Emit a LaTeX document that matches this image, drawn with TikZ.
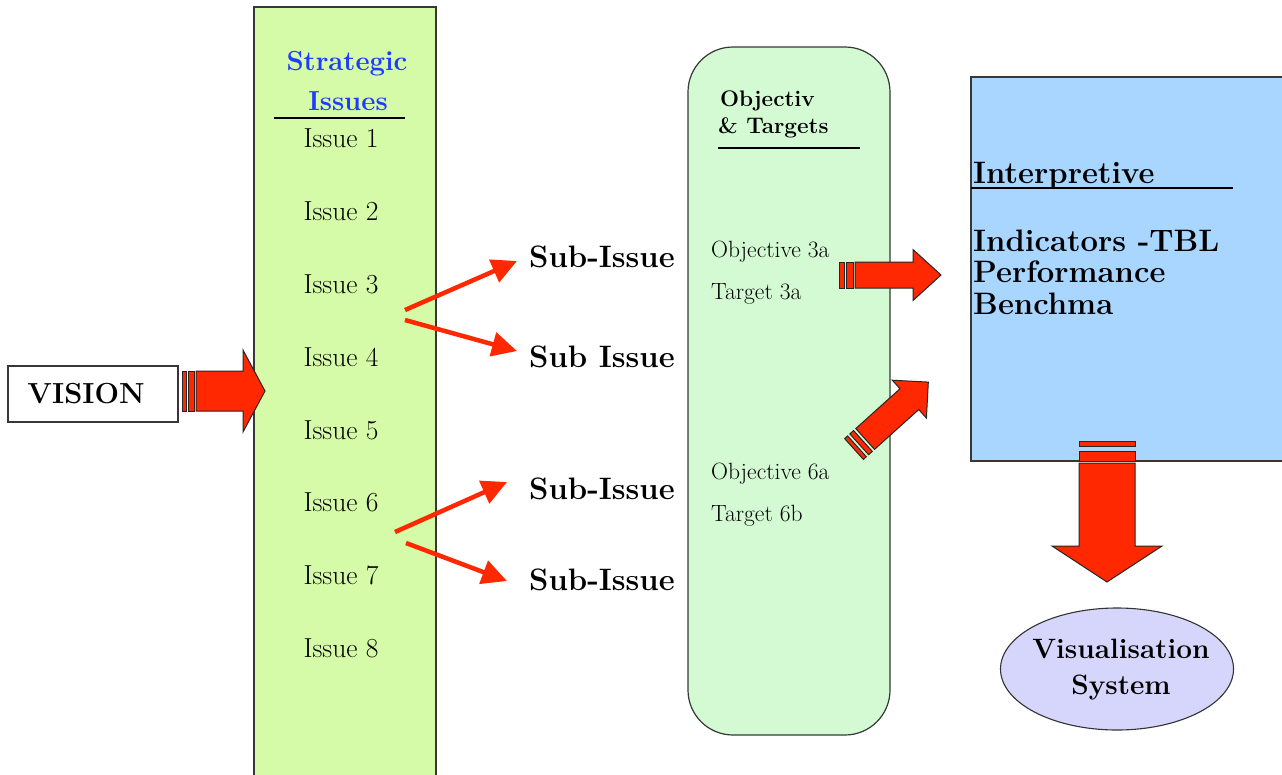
\documentclass[tikz,border=0pt]{standalone}
\usepackage{fontspec}
\usetikzlibrary{arrows.meta,shapes.geometric}
\definecolor{colgreen}{RGB}{213,250,168}
\definecolor{objgreen}{RGB}{212,250,212}
\definecolor{boxblue}{RGB}{168,214,255}
\definecolor{lav}{RGB}{214,214,252}
\definecolor{arrred}{RGB}{255,40,0}
\definecolor{headblue}{RGB}{30,60,255}
\definecolor{edge}{RGB}{55,55,55}
\newcommand\fsz[2]{\fontsize{#1}{#2}\selectfont}
\tikzset{
  panel/.style={fill=#1, draw=edge, line width=1.2pt},
  arrbox/.style={fill=arrred, draw=black!85, line width=1pt, line join=miter},
  thinarr/.style={draw=arrred, line width=4.5pt, -{Triangle[length=25pt,width=24pt]}},
  issue/.style={font=\fsz{27.5}{30}, inner sep=0pt},
  subiss/.style={font=\fsz{31}{34}\bfseries, inner sep=0pt, anchor=west},
  objtxt/.style={font=\fsz{23.5}{25}, inner sep=0pt, anchor=west},
  bigbold/.style={font=\fsz{31}{34}\bfseries, inner sep=0pt, anchor=west},
  pics/sarrow/.style n args={8}{code={
    \draw[arrbox] (0,-#2) rectangle (#5,#2);
    \draw[arrbox] (#6,-#2) rectangle (#7,#2);
    \draw[arrbox] (#8,-#2) -- (#1-#4,-#2) -- (#1-#4,-#3) -- (#1,0) -- (#1-#4,#3) -- (#1-#4,#2) -- (#8,#2) -- cycle;
  }}
}
\begin{document}
\begin{tikzpicture}[x=1pt,y=-1pt]
\useasboundingbox (0,0) rectangle (1282,774);
% Strategic issues column
\path[fill=colgreen] (254,776) -- (254,7) -- (436,7) -- (436,776) -- cycle;
\draw[draw=edge, line width=1.2pt] (254,776) -- (254,7) -- (436,7) -- (436,776);
\node[font=\fsz{27.5}{30}\bfseries, text=headblue, inner sep=0pt] (sh1) at (347,64) {Strategic};
\node[font=\fsz{27.5}{30}\bfseries, text=headblue, inner sep=0pt] (sh2) at (348,101) {Issues};
\draw[line width=1.1pt] (274,118) -- (405,118);
\node[issue] (i1) at (341,138) {Issue 1};
\node[issue] (i2) at (341,211) {Issue 2};
\node[issue] (i3) at (341,284) {Issue 3};
\node[issue] (i4) at (341,357) {Issue 4};
\node[issue] (i5) at (341,430) {Issue 5};
\node[issue] (i6) at (341,502) {Issue 6};
\node[issue] (i7) at (341,575) {Issue 7};
\node[issue] (i8) at (341,648) {Issue 8};
% Vision
\node[draw=edge, line width=1.2pt, fill=white, minimum width=170pt, minimum height=56pt, inner sep=0pt] (vis) at (93,394) {};
\node[font=\fsz{29}{32}\bfseries, inner sep=0pt] (vistxt) at (86,394) {VISION};
\pic at (182,391) {sarrow={83}{20}{41}{22}{4}{6}{12}{14}};
% Objectives box
\node[panel=objgreen, rounded corners=45pt, minimum width=202pt, minimum height=688pt, inner sep=0pt] (obj) at (789,391) {};
\node[font=\fsz{22.5}{25}\bfseries, inner sep=0pt, anchor=west] (oh1) at (720,101) {Objectiv};
\node[font=\fsz{22.5}{25}\bfseries, inner sep=0pt, anchor=west] (oh2) at (718,128) {\& Targets};
\draw[line width=1.1pt] (718,148) -- (860,148);
\node[objtxt] (o3a) at (711,252) {Objective 3a};
\node[objtxt] (t3a) at (711,294) {Target 3a};
\node[objtxt] (o6a) at (711,474) {Objective 6a};
\node[objtxt] (t6b) at (711,516) {Target 6b};
% Sub issues
\node[subiss] (sub1) at (529,257) {Sub-Issue};
\node[subiss] (sub2) at (529,357) {Sub Issue};
\node[subiss] (sub3) at (529,489) {Sub-Issue};
\node[subiss] (sub4) at (529,580) {Sub-Issue};
\coordinate (a1s) at (405,310);
\coordinate (a1e) at (517,261);
\coordinate (a2s) at (405,320);
\coordinate (a2e) at (517,351);
\coordinate (a3s) at (395,532);
\coordinate (a3e) at (507,482);
\coordinate (a4s) at (406,543);
\coordinate (a4e) at (507,581);
\draw[thinarr] (a1s) -- (a1e);
\draw[thinarr] (a2s) -- (a2e);
\draw[thinarr] (a3s) -- (a3e);
\draw[thinarr] (a4s) -- (a4e);
% Interpretive box
\path[fill=boxblue] (1284,77) -- (971,77) -- (971,461) -- (1284,461) -- cycle;
\draw[draw=edge, line width=1.2pt] (1284,77) -- (971,77) -- (971,461) -- (1284,461);
\node[bigbold] (int) at (973,176) {Interpretive};
\draw[line width=1.1pt] (971,188) -- (1233,188);
\node[bigbold] (ind1) at (973,241) {Indicators -TBL};
\node[bigbold] (ind2) at (973,272) {Performance};
\node[bigbold] (ind3) at (973,304) {Benchma};
% objective arrows
\pic at (839,275) {sarrow={102}{13}{25.5}{28}{5}{7}{14}{16}};
\pic[rotate=42] at (854,449) {sarrow={100}{14}{25.5}{25.5}{4}{7}{12}{15}};
% down arrow
\pic[rotate=-90] at (1107,441) {sarrow={141}{28}{55}{36}{5}{10}{20}{22}};
% Visualisation ellipse
\node[ellipse, draw=black!80, line width=1.1pt, fill=lav, minimum width=233pt, minimum height=122pt, inner sep=0pt] (ell) at (1117,669) {};
\node[font=\fsz{28}{36}\bfseries, align=center, inner sep=0pt] (elltxt) at (1121,670) {Visualisation\\System};
\end{tikzpicture}
\end{document}
